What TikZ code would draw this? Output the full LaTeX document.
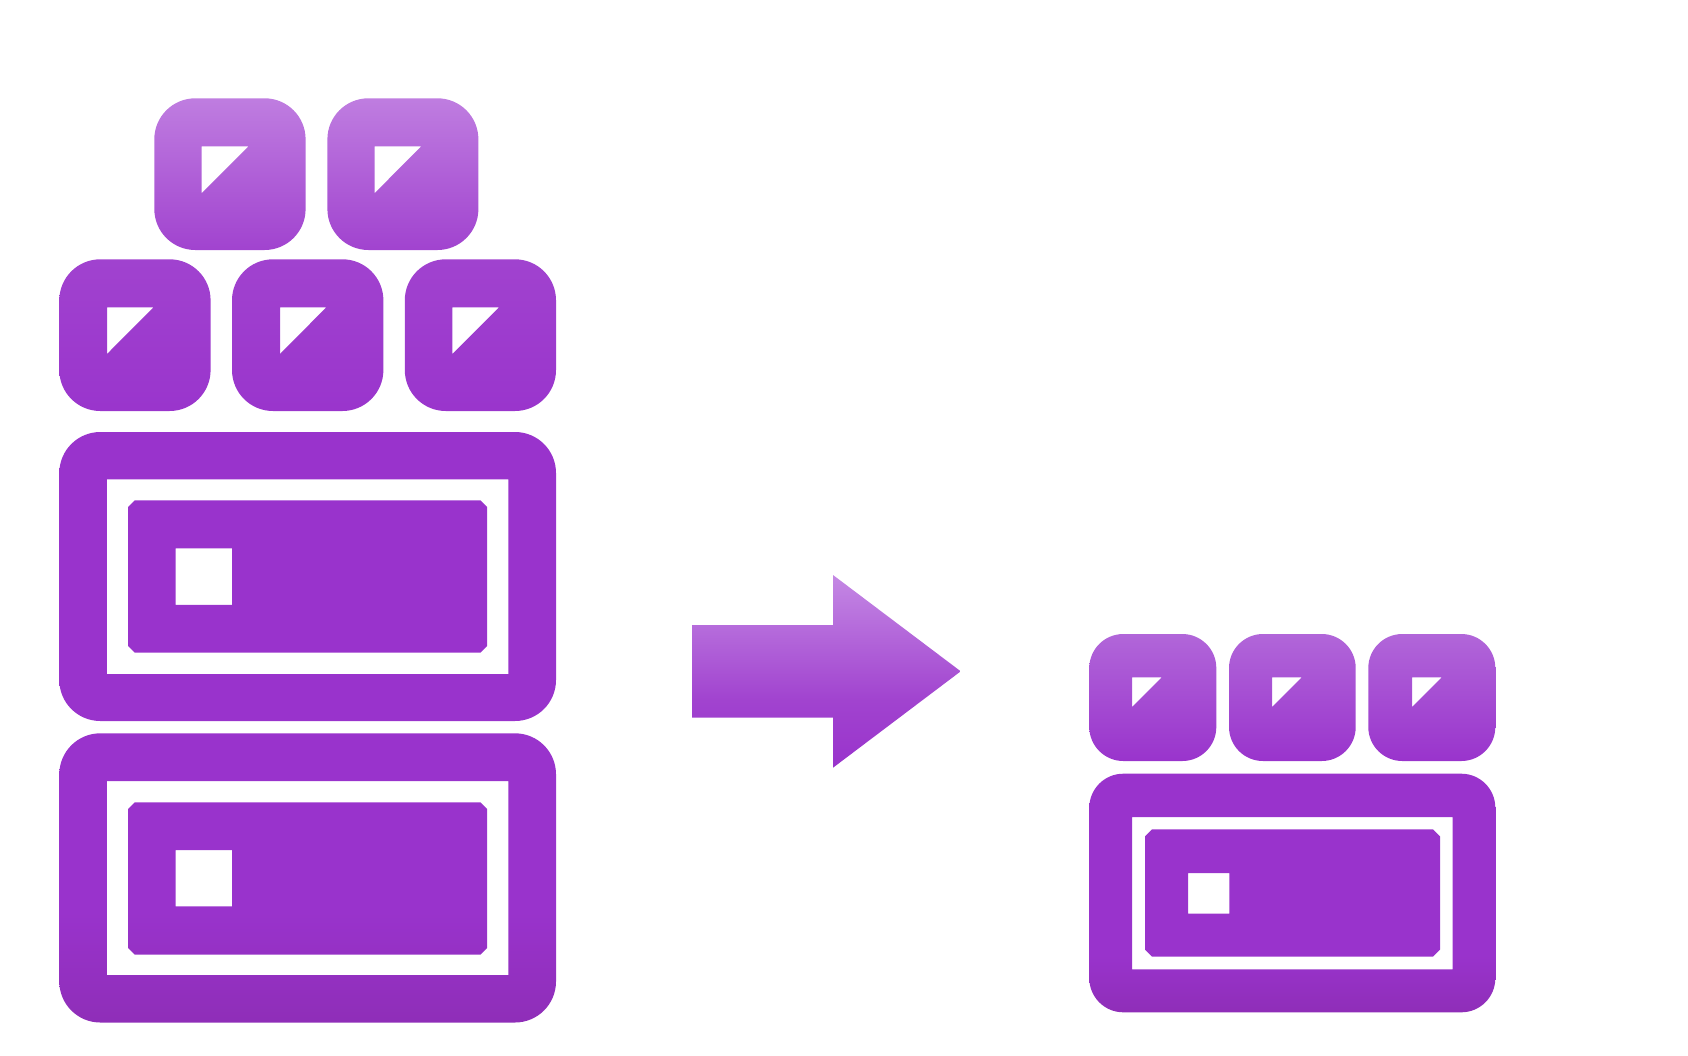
\documentclass[tikz,border=0pt]{standalone}
\definecolor{plum}{HTML}{9933CC}
\definecolor{plumdark}{HTML}{8F2EB8}
\definecolor{plumlight}{HTML}{BF7DE0}
\definecolor{plummid}{HTML}{A143CF}
\definecolor{plumsoft}{HTML}{B166D9}
\definecolor{plumpale}{HTML}{C488E4}
\pgfdeclareverticalshading{stackleft}{100bp}{color(0bp)=(plumdark); color(25bp)=(plumdark); color(31bp)=(plum); color(57bp)=(plum); color(66.8bp)=(plummid); color(75bp)=(plumlight); color(100bp)=(plumlight)}
\pgfdeclareverticalshading{stackright}{100bp}{color(0bp)=(plumdark); color(25bp)=(plumdark); color(32.5bp)=(plum); color(58bp)=(plum); color(75bp)=(plumsoft); color(100bp)=(plumsoft)}
\pgfdeclareverticalshading{arrowfade}{100bp}{color(0bp)=(plum); color(25bp)=(plum); color(42.5bp)=(plummid); color(75bp)=(plumpale); color(100bp)=(plumpale)}
\tikzset{
    bigcorner/.style={rounded corners=41pt},
    smallcorner/.style={rounded corners=34pt},
    nocorner/.style={sharp corners}
}
\begin{document}
\begin{tikzpicture}[x=1pt,y=-1pt]
    \useasboundingbox (0,0) rectangle (1688,1055);

    \begin{scope}[even odd rule]
        \clip
            [bigcorner] (154.3,98.3) rectangle (305.6,250)
            [nocorner] (201.7,146.3) -- (248.5,146.3) -- (201.7,193.2) -- cycle
            [bigcorner] (327.4,98.3) rectangle (478.4,250)
            [nocorner] (374.6,146.3) -- (421.3,146.3) -- (374.6,193.2) -- cycle
            [bigcorner] (59.3,259.3) rectangle (210.6,411)
            [nocorner] (107,307.3) -- (153.6,307.3) -- (107,354) -- cycle
            [bigcorner] (232,259.3) rectangle (383.4,411)
            [nocorner] (280,307.3) -- (326.3,307.3) -- (280,354) -- cycle
            [bigcorner] (404.8,259.3) rectangle (556,411)
            [nocorner] (452.3,307.3) -- (499,307.3) -- (452.3,354) -- cycle
            [bigcorner] (59.3,432) rectangle (556,721)
            [nocorner] (106.8,479.3) rectangle (508.3,674)
            (134.7,500.3) -- (480.5,500.3) -- (487,506.8) -- (487,646.1) -- (480.5,652.6) -- (134.7,652.6) -- (128.2,646.1) -- (128.2,506.8) -- cycle
            (175.7,548.3) rectangle (232.2,604.8)
            [bigcorner] (59.3,733.3) rectangle (556,1022.5)
            [nocorner] (106.8,781) rectangle (508.3,975)
            (134.7,802.3) -- (480.5,802.3) -- (487,808.8) -- (487,948) -- (480.5,954.5) -- (134.7,954.5) -- (128.2,948) -- (128.2,808.8) -- cycle
            (175.7,850) rectangle (232.2,906.3);
        \shade[shading=stackleft] (50,98.3) rectangle (570,1022.5);
    \end{scope}

    \shade[shading=arrowfade] (692,625) -- (833,625) -- (833,575) -- (960.7,671.3) -- (833,767.7) -- (833,717.7) -- (692,717.7) -- cycle;

    \begin{scope}[even odd rule]
        \clip
            [smallcorner] (1089.3,634) rectangle (1216.3,761)
            [nocorner] (1132,677.3) -- (1161.7,677.3) -- (1132,707) -- cycle
            [smallcorner] (1229,634) rectangle (1355.7,761)
            [nocorner] (1272,677.3) -- (1301.7,677.3) -- (1272,707) -- cycle
            [smallcorner] (1368.3,634) rectangle (1495.3,761)
            [nocorner] (1412,677.3) -- (1441.7,677.3) -- (1412,707) -- cycle
            [smallcorner] (1089.3,773.7) rectangle (1495.3,1012.3)
            [nocorner] (1132,817) rectangle (1452.7,969.3)
            (1152,829.3) -- (1433,829.3) -- (1440,836.3) -- (1440,949.7) -- (1433,956.7) -- (1152,956.7) -- (1145,949.7) -- (1145,836.3) -- cycle
            (1188,873) rectangle (1229.3,913.7);
        \shade[shading=stackright] (1080,634) rectangle (1505,1012.3);
    \end{scope}
\end{tikzpicture}
\end{document}
